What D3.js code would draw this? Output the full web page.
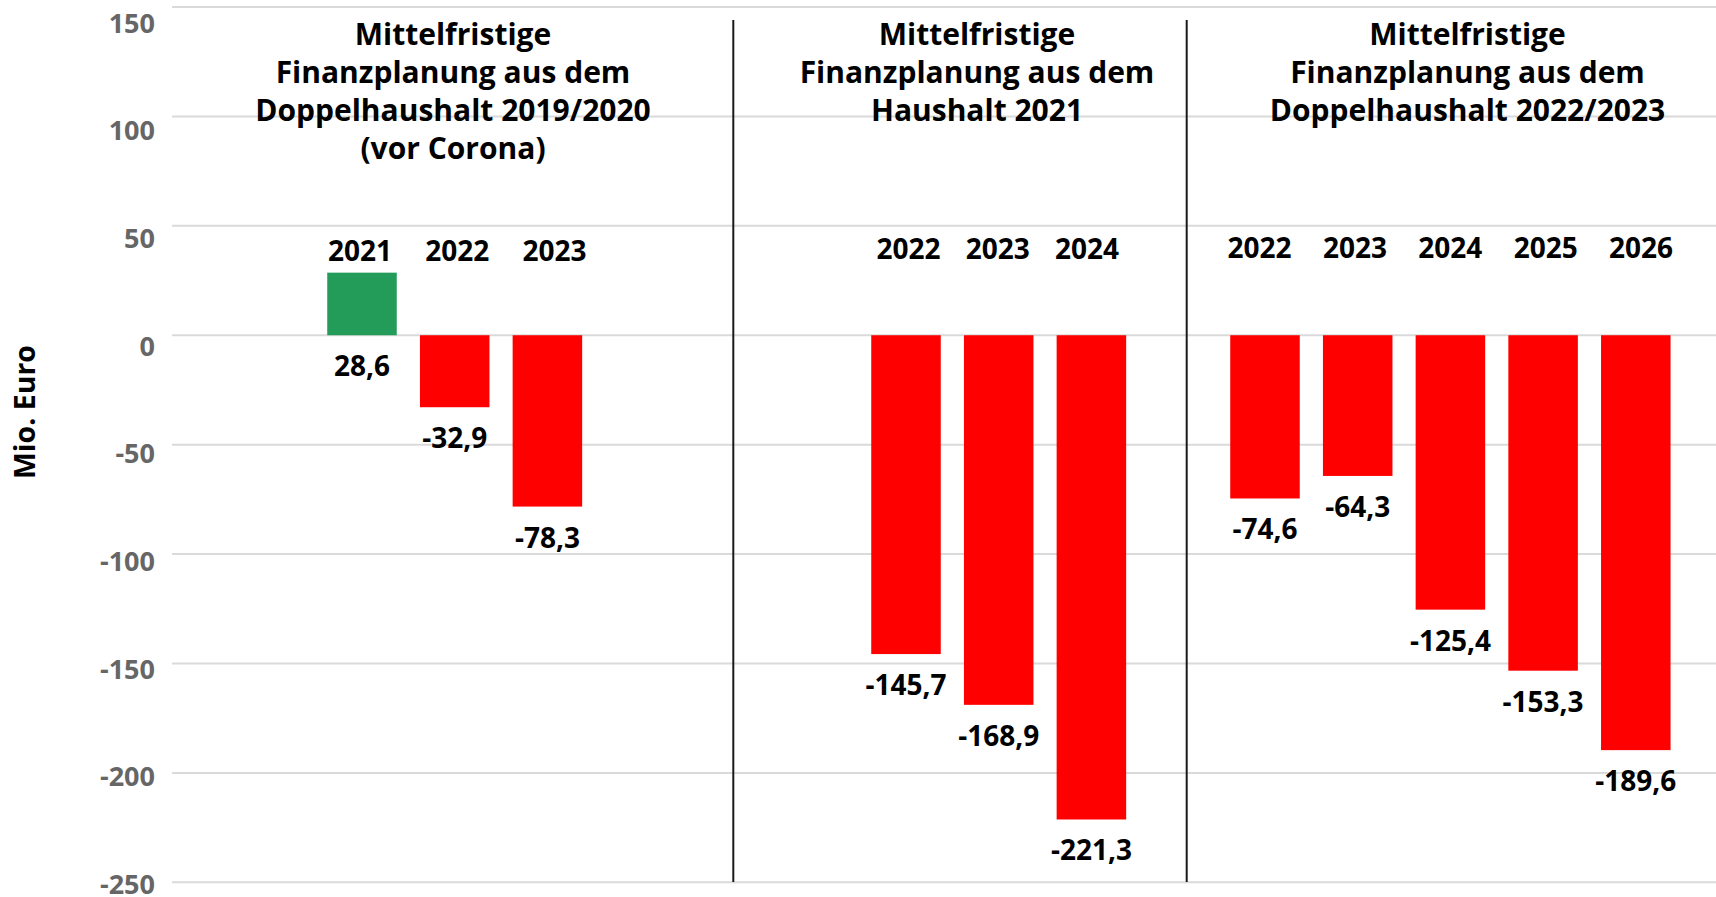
<!DOCTYPE html>
<html>
<head>
<meta charset="utf-8">
<script src="https://cdn.jsdelivr.net/npm/d3@7"></script>
<style>
  html, body { margin: 0; padding: 0; background: #fff; }
  svg { display: block; font-family: "Open Sans", "Noto Sans", sans-serif; }
</style>
</head>
<body>
<svg id="chart" width="1716" height="897"></svg>
<script>
// ---- data ----
const titles1 = ["Mittelfristige", "Finanzplanung aus dem", "Doppelhaushalt 2019/2020", "(vor Corona)"];
const titles2 = ["Mittelfristige", "Finanzplanung aus dem", "Haushalt 2021"];
const titles3 = ["Mittelfristige", "Finanzplanung aus dem", "Doppelhaushalt 2022/2023"];
const years1 = ["2021", "2022", "2023"];
const values1 = [28.6, -32.9, -78.3];
const years2 = ["2022", "2023", "2024"];
const values2 = [-145.7, -168.9, -221.3];
const years3 = ["2022", "2023", "2024", "2025", "2026"];
const values3 = [-74.6, -64.3, -125.4, -153.3, -189.6];
const yTicks = [150, 100, 50, 0, -50, -100, -150, -200, -250];
const yAxisTitle = "Mio. Euro";

// ---- layout ----
const gridX0 = 172, gridX1 = 1716;
const step = 92.7;
const svg = d3.select("#chart");

const y = d3.scaleLinear().domain([150, -250]).range([7, 882.3]);
const yLabel = d3.scaleLinear().domain([150, -250]).range([22.8, 884]);

const loc = d3.formatLocale({decimal: ",", thousands: ".", grouping: [3], currency: ["", " €"], minus: "-"});
const fmt = loc.format(".1f");
const tickFmt = loc.format("d");

// gridlines
svg.append("g").selectAll("line").data(yTicks).join("line")
  .attr("x1", gridX0).attr("x2", gridX1)
  .attr("y1", d => y(d)).attr("y2", d => y(d))
  .attr("stroke", "#dadada").attr("stroke-width", 2);

// y axis labels
const axis = d3.axisLeft(yLabel).tickValues(yTicks).tickSize(0).tickPadding(0).tickFormat(tickFmt);
const ag = svg.append("g").attr("transform", "translate(155,0)").call(axis);
ag.select(".domain").remove();
ag.selectAll("text")
  .attr("font-family", "'Open Sans', sans-serif")
  .attr("font-size", 27).attr("font-weight", 700).attr("fill", "#666")
  .attr("dy", "0.35em");

// y axis title
svg.append("text")
  .attr("transform", "translate(35,412) rotate(-90)")
  .attr("text-anchor", "middle")
  .attr("font-size", 28.5).attr("font-weight", 700).attr("fill", "#000")
  .text(yAxisTitle);

// separators
[733.3, 1186.7].forEach(x => {
  svg.append("line").attr("x1", x).attr("x2", x).attr("y1", 20).attr("y2", 882)
    .attr("stroke", "#1a1a1a").attr("stroke-width", 2);
});

const groups = [
  {titles: titles1, years: years1, values: values1, firstCenter: 362, titleX: 453, labelFirst: 360, labelStep: 97.2, labelY: 260.5},
  {titles: titles2, years: years2, values: values2, firstCenter: 906, titleX: 977, labelFirst: 908.5, labelStep: 89.3, labelY: 259.3},
  {titles: titles3, years: years3, values: values3, firstCenter: 1265, titleX: 1467.5, labelFirst: 1259.6, labelStep: 95.35, labelY: 258.3}
];

groups.forEach(g => {
  const x0 = g.firstCenter - step / 2;
  const x = d3.scaleBand().domain(g.years)
    .range([x0, x0 + step * g.years.length])
    .paddingInner(0.25).paddingOuter(0.125);
  const lx0 = g.labelFirst - g.labelStep / 2;
  const xl = d3.scalePoint().domain(g.years)
    .range([lx0, lx0 + g.labelStep * g.years.length]).padding(0.5);
  const data = g.years.map((yr, i) => ({year: yr, value: g.values[i]}));
  const gg = svg.append("g");

  // title
  gg.append("g").selectAll("text").data(g.titles).join("text")
    .attr("x", g.titleX).attr("y", (d, i) => 45 + i * 38)
    .attr("text-anchor", "middle")
    .attr("font-size", 30).attr("font-weight", 700).attr("fill", "#000")
    .text(d => d);

  // bars
  gg.append("g").selectAll("rect").data(data).join("rect")
    .attr("x", d => x(d.year))
    .attr("width", x.bandwidth())
    .attr("y", d => y(Math.max(0, d.value)))
    .attr("height", d => Math.abs(y(d.value) - y(0)))
    .attr("fill", d => d.value >= 0 ? "#239c59" : "#ff0000");

  // year labels
  gg.append("g").selectAll("text").data(data).join("text")
    .attr("x", d => xl(d.year))
    .attr("y", g.labelY)
    .attr("text-anchor", "middle")
    .attr("font-size", 28).attr("font-weight", 700).attr("fill", "#000")
    .text(d => d.year);

  // value labels
  gg.append("g").selectAll("text").data(data).join("text")
    .attr("x", d => x(d.year) + x.bandwidth() / 2)
    .attr("y", d => y(Math.min(0, d.value)) + 41)
    .attr("text-anchor", "middle")
    .attr("font-size", 28).attr("font-weight", 700).attr("fill", "#000")
    .text(d => fmt(d.value));
});
</script>
</body>
</html>
